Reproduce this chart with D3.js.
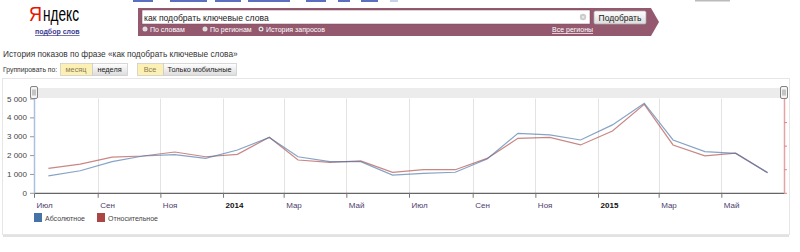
<!DOCTYPE html>
<html>
<head>
<meta charset="utf-8">
<script src="https://cdn.jsdelivr.net/npm/d3@7"></script>
<style>
  body { margin: 0; background: #fff; }
  svg { display: block; font-family: "Liberation Sans", Arial, sans-serif; }
</style>
</head>
<body>
<div id="chart"></div>
<script>
// monthly stats, 2013-07 .. 2015-06
const months = ['2013-07', '2013-08', '2013-09', '2013-10', '2013-11', '2013-12',
    '2014-01', '2014-02', '2014-03', '2014-04', '2014-05', '2014-06',
    '2014-07', '2014-08', '2014-09', '2014-10', '2014-11', '2014-12',
    '2015-01', '2015-02', '2015-03', '2015-04', '2015-05', '2015-06'];
const absolute = [900, 1170, 1650, 1950, 2020, 1830, 2270, 2930, 1910, 1650, 1650, 940,
    1030, 1090, 1790, 3150, 3070, 2800, 3600, 4750, 2800, 2180, 2090, 1070];
const relative = [1.04, 1.22, 1.51, 1.56, 1.73, 1.53, 1.63, 2.36, 1.39, 1.29, 1.35, 0.87,
    0.98, 0.98, 1.46, 2.31, 2.35, 2.03, 2.62, 3.75, 2.03, 1.57, 1.68, 0.85];

const xTickMonths = ['2013-07', '2013-09', '2013-11', '2014-01', '2014-03', '2014-05',
    '2014-07', '2014-09', '2014-11', '2015-01', '2015-03', '2015-05'];
const xTickLabels = ['Июл', 'Сен', 'Ноя', '2014', 'Мар', 'Май', 'Июл', 'Сен', 'Ноя', '2015', 'Мар', 'Май'];
const yTicks = [0, 1000, 2000, 3000, 4000, 5000];
const yRightTicks = [0, 1, 2, 3];
const seriesNames = ['Абсолютное', 'Относительное'];
const colors = ['#4572A7', '#AA4643'];

const W = 800, H = 252;
const svg = d3.select("#chart").append("svg")
    .attr("width", W).attr("height", H);

const parseM = d3.timeParse("%Y-%m");
const midMonth = (m) => d3.timeDay.offset(parseM(m), 14);

// ---------- page header ----------
// cut off links at the very top
[[133, 153], [170, 207], [215, 241], [248, 290], [306, 326], [338, 350], [361, 378]]
    .forEach(([a, b]) => svg.append("rect").attr("x", a).attr("y", 0)
        .attr("width", b - a).attr("height", 2).attr("fill", "#5a6fc0"));
svg.append("rect").attr("x", 390).attr("y", 0).attr("width", 8).attr("height", 2).attr("fill", "#c8d0ee");
svg.append("rect").attr("x", 695).attr("y", 0).attr("width", 35).attr("height", 1.5).attr("fill", "#bbb");

svg.append("text").attr("x", 29).attr("y", 21).attr("font-size", 21)
    .attr("textLength", 13).attr("lengthAdjust", "spacingAndGlyphs")
    .attr("fill", "#e61400").text("Я");
svg.append("text").attr("x", 43).attr("y", 21).attr("font-size", 21)
    .attr("textLength", 36).attr("lengthAdjust", "spacingAndGlyphs")
    .attr("fill", "#000").text("ндекс");
svg.append("text").attr("x", 35).attr("y", 34).attr("font-size", 7).attr("font-weight", "bold")
    .attr("fill", "#3b3b8f").attr("text-decoration", "underline").text("подбор слов");

// search block
svg.append("path").attr("d", "M138,8 L651,8 L659,22 L651,36 L138,36 Z").attr("fill", "#94596f");
svg.append("rect").attr("x", 142).attr("y", 10).attr("width", 448).attr("height", 14)
    .attr("fill", "#fff").attr("stroke", "#7a4a5c").attr("stroke-width", 0.5);
svg.append("text").attr("x", 144).attr("y", 20.5).attr("font-size", 8.6).attr("fill", "#222")
    .text("как подобрать ключевые слова");
svg.append("circle").attr("cx", 583).attr("cy", 17).attr("r", 3.2).attr("fill", "#ccc");
svg.append("text").attr("x", 583).attr("y", 19).attr("font-size", 5).attr("text-anchor", "middle")
    .attr("fill", "#fff").text("×");
const btnGrad = svg.append("defs").append("linearGradient").attr("id", "btn")
    .attr("x1", 0).attr("y1", 0).attr("x2", 0).attr("y2", 1);
btnGrad.append("stop").attr("offset", "0%").attr("stop-color", "#ffffff");
btnGrad.append("stop").attr("offset", "100%").attr("stop-color", "#dcdcdc");
svg.append("rect").attr("x", 594).attr("y", 11).attr("width", 52).attr("height", 13)
    .attr("rx", 1.5).attr("fill", "url(#btn)").attr("stroke", "#aaa").attr("stroke-width", 0.7);
svg.append("text").attr("x", 620).attr("y", 20.5).attr("font-size", 8.5).attr("text-anchor", "middle")
    .attr("fill", "#222").text("Подобрать");

[[145, 'По словам', false], [205, 'По регионам', false], [261, 'История запросов', true]]
    .forEach(([cx, t, sel]) => {
        svg.append("circle").attr("cx", cx).attr("cy", 29).attr("r", 2.5).attr("fill", "#ddd");
        if (sel) svg.append("circle").attr("cx", cx).attr("cy", 29).attr("r", 1.1).attr("fill", "#555");
        svg.append("text").attr("x", cx + 5).attr("y", 31.5).attr("font-size", 7).attr("fill", "#fff").text(t);
    });
svg.append("text").attr("x", 552).attr("y", 32).attr("font-size", 7).attr("fill", "#fff")
    .attr("text-decoration", "underline").text("Все регионы");

svg.append("text").attr("x", 3).attr("y", 57).attr("font-size", 8.3).attr("fill", "#333")
    .text("История показов по фразе «как подобрать ключевые слова»");
svg.append("text").attr("x", 3).attr("y", 72).attr("font-size", 6.8).attr("fill", "#333")
    .text("Группировать по:");

const btn = (bx, w, t, on) => {
    svg.append("rect").attr("x", bx + 0.5).attr("y", 63.5).attr("width", w).attr("height", 12)
        .attr("fill", on ? "#fdf0b4" : "url(#btn)").attr("stroke", "#c8c8c8").attr("stroke-width", 0.7);
    svg.append("text").attr("x", bx + w / 2).attr("y", 72.3).attr("font-size", 7.3)
        .attr("text-anchor", "middle").attr("fill", on ? "#8a7b55" : "#222").text(t);
};
btn(60, 32, "месяц", true);
btn(92, 35, "неделя", false);
btn(137, 26, "Все", true);
btn(163, 73, "Только мобильные", false);

// ---------- chart box ----------
svg.append("rect").attr("x", 3).attr("y", 234).attr("width", 786).attr("height", 3).attr("fill", "#e2e2e2");
svg.append("rect").attr("x", 2.5).attr("y", 78.5).attr("width", 787).attr("height", 156)
    .attr("fill", "#fff").attr("stroke", "#e6e6e6");

const pLeft = 34, pRight = 784, pTop = 98.5, pBottom = 192.8;
const x = d3.scaleTime()
    .domain([new Date(2013, 6, 1), new Date(2015, 6, 1)])
    .range([pLeft, pRight]);
const yL = d3.scaleLinear().domain([0, 5000]).range([pBottom, pTop]);
const yR = d3.scaleLinear().domain([0, 4]).range([pBottom, pTop]);

// vertical grid
svg.append("g").selectAll("line").data(xTickMonths.slice(1)).join("line")
    .attr("x1", d => Math.round(x(parseM(d))) + 0.5).attr("x2", d => Math.round(x(parseM(d))) + 0.5)
    .attr("y1", pTop).attr("y2", pBottom)
    .attr("stroke", "#e3e3e3").attr("stroke-width", 1);

// navigator strip
svg.append("rect").attr("x", pLeft).attr("y", 88).attr("width", pRight - pLeft).attr("height", 10)
    .attr("fill", "#ececec");
[pLeft, pRight].forEach(hx => {
    svg.append("rect").attr("x", hx - 3.5).attr("y", 86.5).attr("width", 7).attr("height", 12)
        .attr("rx", 1.5).attr("fill", "#f4f4f4").attr("stroke", "#666").attr("stroke-width", 0.8);
    [-1, 1].forEach(o => svg.append("line").attr("x1", hx + o).attr("x2", hx + o)
        .attr("y1", 89.5).attr("y2", 95.5).attr("stroke", "#555").attr("stroke-width", 0.6));
});

// bottom axis
const xAxis = d3.axisBottom(x)
    .tickValues(xTickMonths.map(parseM))
    .tickFormat((d, i) => xTickLabels[i])
    .tickSize(5).tickSizeOuter(0);
const gx = svg.append("g").attr("transform", `translate(0,${pBottom})`).call(xAxis);
gx.select(".domain").attr("stroke", "#666").attr("stroke-width", 1.2);
gx.selectAll(".tick line").attr("stroke", "#777");
gx.selectAll(".tick text")
    .attr("text-anchor", "start").attr("x", 2).attr("dy", "0.9em")
    .attr("font-family", "'Liberation Sans', Arial, sans-serif")
    .attr("font-size", 8)
    .attr("fill", (d, i) => /\d/.test(xTickLabels[i]) ? "#111" : "#4d3d6d")
    .attr("font-weight", (d, i) => /\d/.test(xTickLabels[i]) ? "bold" : "normal");

// left axis
const fmt = d3.format(",");
const yAxis = d3.axisLeft(yL).tickValues(yTicks)
    .tickFormat(d => fmt(d).replace(/,/g, " ")).tickSize(4).tickSizeOuter(0);
const gy = svg.append("g").attr("transform", `translate(${pLeft},0)`).call(yAxis);
gy.select(".domain").attr("stroke", "#a9c0de").attr("stroke-width", 1.5);
gy.selectAll(".tick line").attr("stroke", "#999");
gy.selectAll(".tick text").attr("x", -7)
    .attr("font-family", "'Liberation Sans', Arial, sans-serif")
    .attr("font-size", 8).attr("fill", "#444");

// right axis (relative values)
const yRAxis = d3.axisRight(yR).tickValues(yRightTicks).tickFormat("").tickSize(3).tickSizeOuter(0);
const gyr = svg.append("g").attr("transform", `translate(${pRight},0)`).call(yRAxis);
gyr.select(".domain").attr("stroke", "#e6a3a3").attr("stroke-width", 1.5);
gyr.selectAll(".tick line").attr("stroke", "#d88");

// series
const lineAbs = d3.line().x((d, i) => x(midMonth(months[i]))).y(d => yL(d));
const lineRel = d3.line().x((d, i) => x(midMonth(months[i]))).y(d => yR(d));
svg.append("path").datum(relative).attr("d", lineRel)
    .attr("fill", "none").attr("stroke", colors[1]).attr("stroke-opacity", 0.65).attr("stroke-width", 1.2);
svg.append("path").datum(absolute).attr("d", lineAbs)
    .attr("fill", "none").attr("stroke", colors[0]).attr("stroke-opacity", 0.65).attr("stroke-width", 1.2);

// legend
const lg = svg.append("g").selectAll("g").data(seriesNames).join("g")
    .attr("transform", (d, i) => `translate(${i ? 97 : 34},213)`);
lg.append("rect").attr("width", 8).attr("height", 9).attr("fill", (d, i) => colors[i]);
lg.append("text").attr("x", 11).attr("y", 7.5).attr("font-size", 7).attr("fill", "#444").text(d => d);
</script>
</body>
</html>
